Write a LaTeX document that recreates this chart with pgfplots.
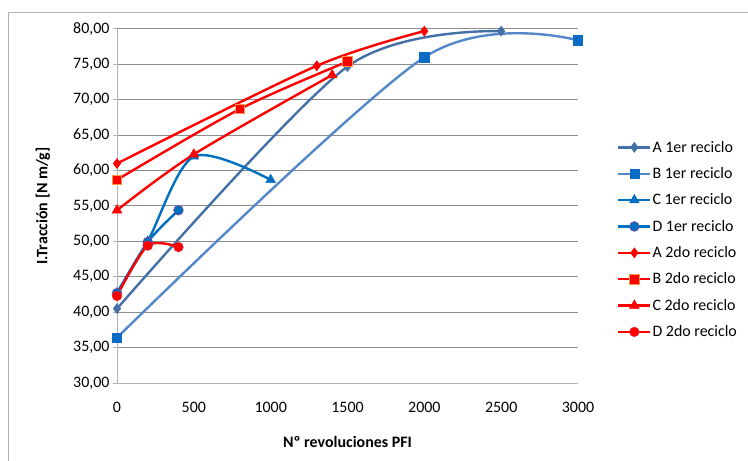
\documentclass[border=0pt]{standalone}
\usepackage{fontspec}
\setmainfont{Carlito}
\usepackage{pgfplots}
\pgfplotsset{compat=1.18}

\definecolor{cA1}{HTML}{4470A8}
\definecolor{cB1}{HTML}{5588C8}
\definecolor{cB1m}{HTML}{0A6CC4}
\definecolor{cC1}{HTML}{0070C0}
\definecolor{cD1b}{HTML}{7050A0}
\definecolor{cRed}{HTML}{FF0000}
\definecolor{cOrange}{HTML}{F79646}
\definecolor{cD2b}{HTML}{D04070}
\definecolor{gridc}{HTML}{8C8C8C}
\definecolor{axisc}{HTML}{B4B4B4}
\definecolor{framec}{HTML}{B0B0B0}

\begin{document}
\begin{tikzpicture}
\useasboundingbox (0,0) rectangle (748bp,461bp);
% outer chart frame
\draw[framec, line width=1bp] (8bp,0bp) -- (8bp,448bp) -- (748bp,448bp);
\begin{axis}[
  at={(117bp,78bp)}, anchor=south west,
  scale only axis, width=461bp, height=354bp,
  xmin=0, xmax=3000, ymin=30, ymax=80,
  xtick={0,500,...,3000}, ytick={30,35,...,80},
  axis lines*=left,
  axis line style={axisc, line width=1bp},
  ymajorgrids, grid style={gridc, line width=1bp},
  tick align=outside, major tick length=4bp,
  ytick style={axisc, line width=1bp},
  xtick style={draw=none},
  font=\fontsize{16}{19}\selectfont,
  /pgf/number format/assume math mode=true,
  yticklabel style={/pgf/number format/.cd, fixed, fixed zerofill, precision=2, use comma},
  xticklabel style={/pgf/number format/1000 sep={}, yshift=-12bp},
  xlabel={\bfseries Nº revoluciones PFI},
  ylabel={\bfseries I.Tracción [N m/g]},
  xlabel style={at={(axis description cs:0.5,-0.167)}, anchor=center},
  ylabel style={at={(axis description cs:-0.1605,0.5)}, anchor=center},
  clip=false,
  every axis plot/.append style={line width=2.4bp, smooth, tension=0.5},
  legend style={draw=none, fill=none, at={(1.078,0.405)}, anchor=west,
    font=\fontsize{16}{19}\selectfont, row sep=11.8bp,
    nodes={inner sep=1bp}},
  legend cell align=left,
  legend image code/.code={
    \draw[mark repeat=2, mark phase=2] plot coordinates {(0bp,0bp) (16bp,0bp) (32bp,0bp)};
  },
]
% first recycling
\addplot[cA1, mark=diamond*, mark size=5bp, mark options={solid, line width=0.5bp, fill=cA1}]
  coordinates {(0,40.5) (1500,74.7) (2500,79.7)};
\addlegendentry{A 1er reciclo}
\addplot[cB1, mark=square*, mark size=4.6bp, mark options={solid, line width=0.5bp, draw=cB1m, fill=cB1m}]
  coordinates {(0,36.4) (2000,76.0) (3000,78.4)};
\addlegendentry{B 1er reciclo}
\addplot[cC1, mark=triangle*, mark size=5.6bp, mark options={solid, line width=0.5bp, fill=cC1}]
  coordinates {(0,42.7) (200,50.0) (500,62.0) (1000,58.7)};
\addlegendentry{C 1er reciclo}
\addplot[cC1, mark=*, mark size=4.8bp, mark options={solid, line width=0.8bp, draw=cD1b, fill=cC1}]
  coordinates {(0,42.7) (200,49.9) (400,54.4)};
\addlegendentry{D 1er reciclo}
% second recycling
\addplot[cRed, mark=diamond*, mark size=5bp, mark options={solid, line width=0.5bp, fill=cRed}]
  coordinates {(0,61.0) (1300,74.8) (2000,79.7)};
\addlegendentry{A 2do reciclo}
\addplot[cRed, mark=square*, mark size=4.8bp, mark options={solid, line width=0.8bp, draw=cOrange, fill=cRed}]
  coordinates {(0,58.7) (800,68.7) (1500,75.4)};
\addlegendentry{B 2do reciclo}
\addplot[cRed, mark=triangle*, mark size=5.6bp, mark options={solid, line width=0.5bp, fill=cRed}]
  coordinates {(0,54.4) (500,62.3) (1400,73.5)};
\addlegendentry{C 2do reciclo}
\addplot[cRed, mark=*, mark size=4.8bp, mark options={solid, line width=0.5bp, draw=cD2b!40!cRed, fill=cRed}]
  coordinates {(0,42.3) (200,49.4) (400,49.2)};
\addlegendentry{D 2do reciclo}
\end{axis}
\end{tikzpicture}
\end{document}
